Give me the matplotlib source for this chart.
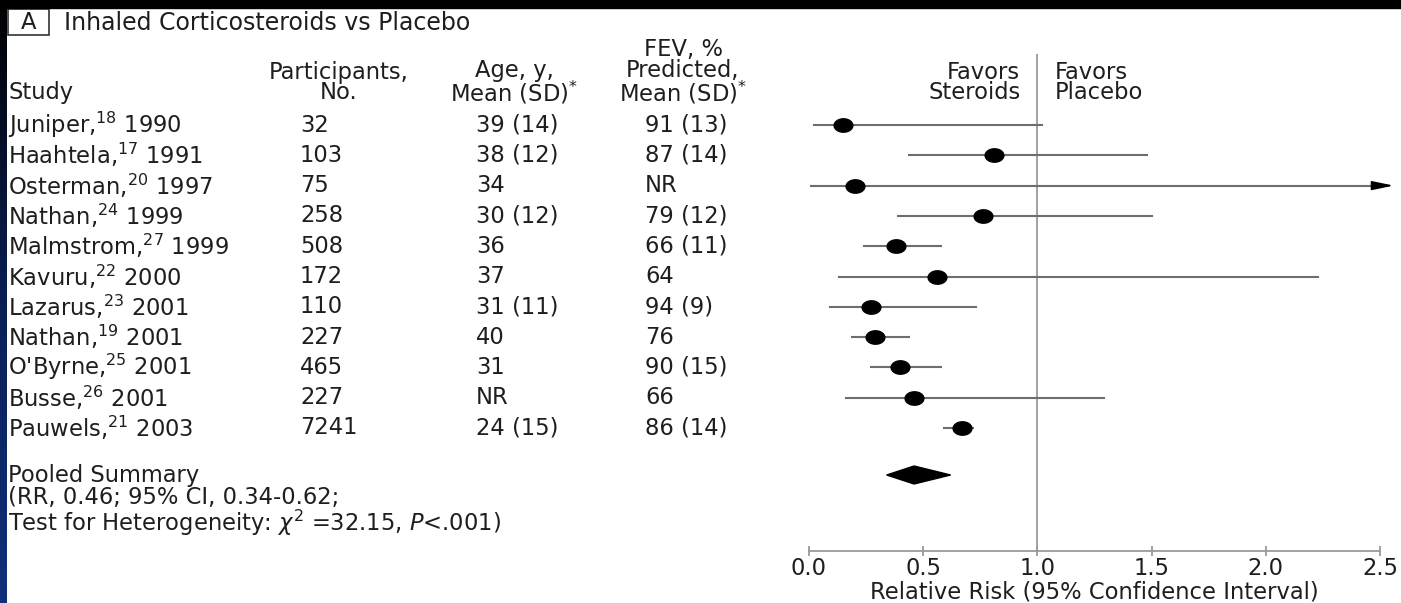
import numpy as np
import matplotlib
matplotlib.use("Agg")
import matplotlib.pyplot as plt
import matplotlib.transforms as mtransforms
from matplotlib.patches import Rectangle

# the source slide is stretched sideways, so use the widest sans available
plt.rcParams['font.family'] = ['DejaVu Sans']
plt.rcParams['mathtext.fontset'] = 'dejavusans'

# ---- data ----
studies = ['Juniper', 'Haahtela', 'Osterman', 'Nathan', 'Malmstrom', 'Kavuru',
           'Lazarus', 'Nathan', "O'Byrne", 'Busse', 'Pauwels']
refs = ['18', '17', '20', '24', '27', '22', '23', '19', '25', '26', '21']
years = ['1990', '1991', '1997', '1999', '1999', '2000', '2001', '2001', '2001', '2001', '2003']
participants = ['32', '103', '75', '258', '508', '172', '110', '227', '465', '227', '7241']
age = ['39 (14)', '38 (12)', '34', '30 (12)', '36', '37', '31 (11)', '40', '31', 'NR', '24 (15)']
fev = ['91 (13)', '87 (14)', 'NR', '79 (12)', '66 (11)', '64', '94 (9)', '76', '90 (15)', '66', '86 (14)']
rr = [0.15, 0.81, 0.20, 0.76, 0.38, 0.56, 0.27, 0.29, 0.40, 0.46, 0.67]
ci_lo = [0.02, 0.44, 0.01, 0.39, 0.24, 0.13, 0.09, 0.19, 0.27, 0.16, 0.59]
ci_hi = [1.02, 1.48, 2.56, 1.50, 0.58, 2.23, 0.73, 0.44, 0.58, 1.29, 0.72]
pooled_rr, pooled_lo, pooled_hi = 0.46, 0.34, 0.62
xticks = [0.0, 0.5, 1.0, 1.5, 2.0, 2.5]

W, H = 1401, 603
TXT = '#1e1e1e'
FS = 16.3

fig = plt.figure(figsize=(W / 100, H / 100), dpi=100)
fig.patch.set_facecolor('white')

# forest axes: x 0..2.5 spans px 809..1380, bottom spine at y=551
row0, step = 125, 30.3
top_px, bot_px = 40, 551
ax = fig.add_axes([809 / W, (H - bot_px) / H, (1380 - 809) / W, (bot_px - top_px) / H])
ax.set_xlim(0, 2.5)
ax.set_ylim((bot_px - row0) / step, (top_px - row0) / step)
ax.patch.set_alpha(0)
for s in ['top', 'right', 'left']:
    ax.spines[s].set_visible(False)
ax.spines['bottom'].set_color('#9a9a9a')
ax.spines['bottom'].set_linewidth(1.3)
ax.set_yticks([])
ax.set_xticks(xticks)
ax.set_xticklabels([f'{t:.1f}' for t in xticks])
ax.tick_params(axis='x', direction='inout', length=7, width=1.3, color='#9a9a9a',
               labelsize=FS, labelcolor=TXT, pad=1)
ax.set_xlabel('Relative Risk (95% Confidence Interval)', fontsize=FS, color=TXT, labelpad=0)

rows = np.arange(len(studies))
yl = ax.get_ylim()

# reference line at RR = 1
ax.vlines(1.0, (54 - row0) / step, yl[0], color='#9a9a9a', lw=1.3, zorder=1)

# CI lines and points
for i in rows:
    hi = min(ci_hi[i], 2.5)
    ax.plot([ci_lo[i], hi], [i, i], color='#6e6e6e', lw=1.5, zorder=2, clip_on=False)
    if ci_hi[i] > 2.5:
        ax.annotate('', xy=(ci_hi[i], i), xytext=(2.48, i),
                    arrowprops=dict(arrowstyle='-|>,head_length=1.3,head_width=0.27',
                                    color='black', lw=1.2, shrinkA=0, shrinkB=0),
                    annotation_clip=False)

# points drawn as ellipses (stretched source image)
t = np.linspace(0, 2 * np.pi, 64)
ellipse = np.column_stack([1.4 * np.cos(t), np.sin(t)])
ax.plot(rr, rows, linestyle='none', marker=ellipse, color='black', ms=13.5, zorder=3)

# pooled diamond
yp = (475 - row0) / step
dh = 9 / step
ax.fill([pooled_lo, pooled_rr, pooled_hi, pooled_rr], [yp, yp - dh, yp, yp + dh],
        color='black', zorder=3)

# header rows (pixel y of the lines: 51, 72, 93)
yhead2 = (82.5 - row0) / step
yhead3 = (72 - row0) / step
LS = 0.88
ax.text(0.925, yhead2, 'Favors\nSteroids', ha='right', va='center', multialignment='right',
        fontsize=FS, color=TXT, linespacing=LS)
ax.text(1.075, yhead2, 'Favors\nPlacebo', ha='left', va='center', multialignment='left',
        fontsize=FS, color=TXT, linespacing=LS)

# table text, x in figure fraction, y in row units
tr = mtransforms.blended_transform_factory(fig.transFigure, ax.transData)
def put(xpx, y, s, ha='left', size=FS, ls=LS):
    ax.text(xpx / W, y, s, transform=tr, ha=ha, va='center', multialignment=ha,
            fontsize=size, color=TXT, linespacing=ls, clip_on=False)

put(8, (93 - row0) / step, 'Study')
put(339, yhead2, 'Participants,\nNo.', ha='center')
put(514, yhead2, 'Age, y,\nMean (SD)$^{*}$', ha='center')
put(683, yhead3, 'FEV, %\nPredicted,\nMean (SD)$^{*}$', ha='center')

for i in rows:
    put(8, i, f'{studies[i]},$^{{{refs[i]}}}$ {years[i]}')
    put(300, i, participants[i])
    put(476, i, age[i])
    put(645, i, fev[i])

put(8, (501 - row0) / step,
    'Pooled Summary\n(RR, 0.46; 95% CI, 0.34-0.62;\n'
    r'Test for Heterogeneity: $\chi^{2}$ =32.15, $P$<.001)', ls=0.96)

# panel title with boxed letter
fig.add_artist(Rectangle((8 / W, 1 - 35 / H), 41 / W, 26 / H, transform=fig.transFigure,
                         fc='white', ec='#333333', lw=1.2, zorder=5))
fig.text(28.5 / W, 1 - 22.5 / H, 'A', ha='center', va='center', fontsize=FS, color=TXT,
         zorder=6)
fig.text(64 / W, 1 - 23 / H, 'Inhaled Corticosteroids vs Placebo', ha='left', va='center',
         fontsize=17, color=TXT)

# slide frame: black top strip, dark gradient on the left edge
fig.add_artist(Rectangle((0, 1 - 8 / H), 1, 8 / H, transform=fig.transFigure,
                         color='black', zorder=10))
gax = fig.add_axes([0, 0, 7 / W, 1])
grad = np.linspace(0, 1, 256).reshape(-1, 1)
cmap = matplotlib.colors.LinearSegmentedColormap.from_list('frame', ['#000000', '#0a1f55', '#10307a'])
gax.imshow(grad, aspect='auto', cmap=cmap, extent=[0, 1, 0, 1], origin='upper')
gax.axis('off')

fig.savefig('out.png', dpi=100)
